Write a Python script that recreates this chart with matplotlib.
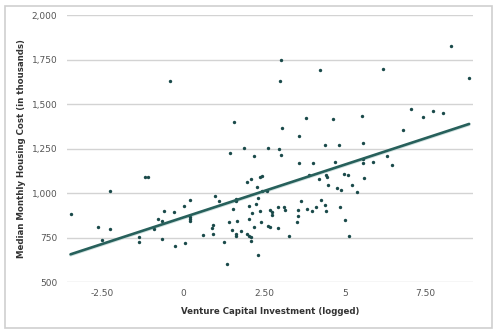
import numpy as np
import matplotlib
matplotlib.use("Agg")
import matplotlib.pyplot as plt
from matplotlib.patches import Rectangle

#==========================
# DATA
#==========================
vc = [-3.49, -2.28, -1.19, -1.08, -2.63, -2.28, -2.51, -1.37, -1.37, -0.90,
      -0.77, -0.67, -0.59, -0.29, -0.67, -0.27, 0.06, 0.03, 0.20, 0.20,
      0.21, 0.21, 0.60, 0.97, 1.12, 0.89, 0.93, 0.93, 1.27, 1.34,
      1.42, 1.51, 1.65, 1.63, 1.63, 1.55, 1.63, 1.63, 1.96, 2.02,
      1.97, 2.04, 2.03, 1.87, 1.45, 1.57, -0.40, 2.19, 2.61, 2.96,
      3.02, 3.02, 2.99, 4.24, 6.19, 8.30, 8.85, 7.04, 7.43, 7.73,
      8.05, 5.53, 3.80, 4.63, 3.06, 6.79, 3.57, 4.40, 4.83, 5.55,
      3.57, 4.03, 4.71, 5.55, 5.86, 6.32, 6.46, 5.55, 3.88, 4.19,
      4.43, 4.46, 4.99, 5.10, 5.58, 4.49, 4.77, 4.89, 5.22, 5.38,
      2.10, 2.39, 2.43, 2.28, 2.45, 2.59, 2.32, 2.25, 2.14, 2.37,
      2.69, 2.74, 2.74, 2.93, 3.12, 3.15, 2.41, 1.78, 2.20, 2.61,
      2.67, 2.94, 2.10, 2.10, 2.32, 3.64, 3.54, 3.82, 3.97, 4.11,
      4.25, 4.39, 4.42, 4.86, 3.56, 3.52, 5.01, 3.26, 5.13]
housing = [885, 1013, 1093, 1091, 812, 799, 735, 753, 727, 801,
           855, 844, 902, 893, 746, 706, 722, 927, 962, 868,
           855, 844, 767, 983, 956, 804, 822, 772, 729, 602,
           840, 794, 843, 966, 956, 913, 770, 758, 1062, 927,
           771, 758, 854, 1254, 1224, 1403, 1632, 1209, 1254, 1250,
           1216, 1748, 1632, 1690, 1699, 1825, 1645, 1473, 1430, 1464,
           1452, 1435, 1421, 1417, 1365, 1353, 1320, 1273, 1273, 1284,
           1173, 1168, 1174, 1169, 1175, 1209, 1160, 1191, 1102, 1083,
           1105, 1091, 1106, 1105, 1088, 1049, 1031, 1018, 1047, 1007,
           1078, 1091, 1097, 1037, 1011, 1014, 975, 938, 892, 899,
           906, 893, 876, 923, 921, 908, 840, 786, 810, 816,
           810, 807, 754, 732, 652, 958, 907, 912, 899, 923,
           965, 937, 898, 921, 875, 836, 852, 760, 761]

yticks = [500, 750, 1000, 1250, 1500, 1750, 2000]
xticks = [-2.5, 0, 2.5, 5, 7.5]
xticklabels = ["-2.50", "0", "2.50", "5", "7.50"]

vc = np.array(vc)
housing = np.array(housing)

#==========================
# TREND LINE
#==========================
slope, icpt = np.polyfit(vc, housing, 1)
xl = np.array([vc.min(), vc.max()])
yl = slope * xl + icpt

teal = "#1a4a4a"

fig = plt.figure(figsize=(5.0, 3.34), dpi=100)
# light frame round the whole chart
fig.patches.append(Rectangle((5 / 500, 1 - 328 / 334), 487 / 500, 322 / 334,
                             transform=fig.transFigure, fill=False,
                             edgecolor="#cfcfcf", linewidth=1.2))

ax = fig.add_axes([0.134, 0.1548, 0.8114, 0.7994])
ax.set_xlim(-3.6, 8.96)
ax.set_ylim(500, 2000)

for t in yticks:
    ax.axhline(t, color="#d3d3d3", linewidth=1.0, zorder=0)

ax.scatter(vc, housing, s=6, color=teal, zorder=3, linewidths=0)
# faint halo under the trend line
ax.plot(xl, yl - 5, color="#b9d3d0", linewidth=2.0, solid_capstyle="round", zorder=2, alpha=0.7)
ax.plot(xl, yl, color="#27605b", linewidth=1.9, solid_capstyle="round", zorder=4)

for s in ax.spines.values():
    s.set_visible(False)
ax.set_yticks(yticks)
ax.set_yticklabels(["{:,}".format(t) for t in yticks])
ax.set_xticks(xticks)
ax.set_xticklabels(xticklabels)
ax.tick_params(length=0, labelsize=6.5, labelcolor="#555555")
ax.tick_params(axis="y", pad=7)
ax.tick_params(axis="x", pad=5)

ax.set_xlabel("Venture Capital Investment (logged)", fontsize=6.2, fontweight="bold",
              color="#333333", labelpad=6)
ax.set_ylabel("Median Monthly Housing Cost (in thousands)", fontsize=6.2, fontweight="bold",
              color="#333333", labelpad=4)

fig.savefig("out.png", dpi=100)
